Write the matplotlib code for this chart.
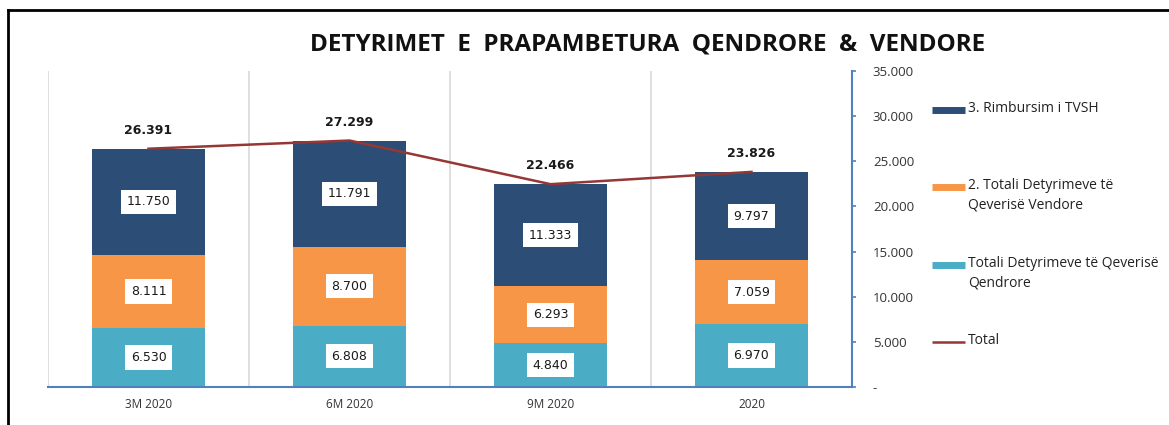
import matplotlib
matplotlib.use("Agg")
import matplotlib.pyplot as plt
from matplotlib.lines import Line2D
from matplotlib.ticker import FuncFormatter, FixedLocator
import numpy as np

categories = ["3M 2020", "6M 2020", "9M 2020", "2020"]
qendrore = [6530, 6808, 4840, 6970]
vendore = [8111, 8700, 6293, 7059]
tvsh = [11750, 11791, 11333, 9797]
total = [26391, 27299, 22466, 23826]

labels = ["3. Rimbursim i TVSH",
          "2. Totali Detyrimeve të\nQeverisë Vendore",
          "Totali Detyrimeve të Qeverisë\nQendrore",
          "Total"]

c_tvsh = "#2C4D75"
c_vendore = "#F79646"
c_qendrore = "#4BACC6"
c_total = "#953735"
axis_blue = "#4F81BD"
grid_gray = "#D9D9D9"

plt.rcParams["font.family"] = ["Open Sans", "DejaVu Sans"]

fig = plt.figure(figsize=(11.69, 4.25), dpi=100)
ax = fig.add_axes([48 / 1169, 38 / 425, (852 - 48) / 1169, (387 - 71) / 425])

x = np.arange(len(categories))
w = 0.56
b1 = ax.bar(x, qendrore, w, color=c_qendrore, zorder=2)
b2 = ax.bar(x, vendore, w, bottom=qendrore, color=c_vendore, zorder=2)
bottom3 = np.array(qendrore) + np.array(vendore)
b3 = ax.bar(x, tvsh, w, bottom=bottom3, color=c_tvsh, zorder=2)
ax.plot(x, total, color=c_total, lw=1.8, zorder=3)


def fmt(v):
    return f"{v:,.0f}".replace(",", ".")


box = dict(boxstyle="square,pad=0.45", fc="white", ec="none")
for bars, vals, bottoms in [(b1, qendrore, np.zeros(4)),
                            (b2, vendore, np.array(qendrore)),
                            (b3, tvsh, bottom3)]:
    for i, v in enumerate(vals):
        ax.text(x[i], bottoms[i] + v / 2, fmt(v), ha="center", va="center",
                fontsize=9, family="DejaVu Sans", color="#1a1a1a",
                bbox=box, zorder=4)

for i, v in enumerate(total):
    ax.text(x[i], v + 1300, fmt(v), ha="center", va="bottom",
            fontsize=9, family="DejaVu Sans", fontweight="bold",
            color="#1a1a1a", zorder=4)

ax.set_xlim(-0.5, 3.5)
ax.set_ylim(0, 35000)

# vertical separators between categories
for xs in [-0.5, 0.5, 1.5, 2.5]:
    ax.axvline(xs, color=grid_gray, lw=1.2, zorder=1)

ax.set_xticks(x)
ax.set_xticklabels(categories, fontsize=8.5, color="#333333")
ax.tick_params(axis="x", length=0, pad=8)

ax.yaxis.tick_right()
ax.yaxis.set_major_locator(FixedLocator(np.arange(0, 35001, 5000)))
ax.yaxis.set_major_formatter(FuncFormatter(lambda v, p: "-" if v == 0 else fmt(v)))
ax.tick_params(axis="y", direction="out", length=3, width=1.2, color=axis_blue,
               pad=12, labelsize=9.5, labelcolor="#333333")

for s in ["top", "left"]:
    ax.spines[s].set_visible(False)
ax.spines["right"].set_color(axis_blue)
ax.spines["right"].set_linewidth(1.5)
ax.spines["bottom"].set_color(axis_blue)
ax.spines["bottom"].set_linewidth(1.5)

# legend entries to the right of the value axis
handles = [(c_tvsh, 5), (c_vendore, 5), (c_qendrore, 5), (c_total, 1.8)]
ys = [110, 187, 265, 342]
for (col, lw), lab, yp in zip(handles, labels, ys):
    yf = 1 - yp / 425
    fig.add_artist(Line2D([932 / 1169, 965 / 1169], [yf, yf], color=col, lw=lw,
                          solid_capstyle="butt"))
    fig.text(968 / 1169, yf + 9 / 425, lab, ha="left", va="top",
             fontsize=10, color="#222222", linespacing=1.4)

fig.text(0.554, 1 - 45 / 425, "DETYRIMET  E  PRAPAMBETURA  QENDRORE  &  VENDORE",
         ha="center", va="center", fontsize=17.5, fontweight="bold", color="#111111")

# outer frame
fig.add_artist(Line2D([8 / 1169, 1], [1 - 10 / 425, 1 - 10 / 425], color="black", lw=2))
fig.add_artist(Line2D([8 / 1169, 8 / 1169], [0, 1 - 10 / 425], color="black", lw=2))

fig.savefig("out.png", dpi=100)
